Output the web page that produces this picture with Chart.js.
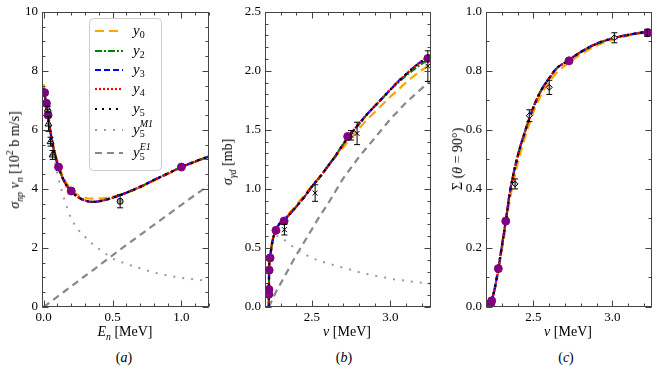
<!DOCTYPE html>
<html lang="en">
<head>
<meta charset="UTF-8">
<title>np capture and deuteron photodisintegration</title>
<script src="https://cdn.jsdelivr.net/npm/chart.js"></script>
<style>
    body {
        margin: 0;
        width: 665px;
        height: 371px;
        position: relative;
        overflow: hidden;
        background: #fff;
        font-family: 'Liberation Serif', 'Times New Roman', serif;
        color: #000;
    }
    canvas { position: absolute; top: 0; }
    .lbl, .ylbl, .cap {
        position: absolute;
        white-space: nowrap;
        font-size: 14px;
        line-height: 1;
    }
    .lbl, .cap { transform: translate(-50%, -50%); }
    .ylbl { transform: translate(-50%, -50%) rotate(-90deg); }
    sub, sup { font-size: 70%; line-height: 0; }
</style>
</head>
<body>
<canvas id="chartA" width="215" height="330" style="left:0px"></canvas>
<canvas id="chartB" width="206" height="330" style="left:230px"></canvas>
<canvas id="chartC" width="207" height="330" style="left:450px"></canvas>

<div class="ylbl" style="left:15px; top:160px"><i>σ<sub>np</sub> v<sub>n</sub></i> [10<sup>2</sup> b m/s]</div>
<div class="ylbl" style="left:228px; top:162px"><i>σ<sub>γd</sub></i> [mb]</div>
<div class="ylbl" style="left:458px; top:159px">Σ (<i>θ</i> = 90°)</div>

<div class="lbl" style="left:125px; top:332px"><i>E<sub>n</sub></i> [MeV]</div>
<div class="lbl" style="left:347px; top:332px"><i>ν</i> [MeV]</div>
<div class="lbl" style="left:568px; top:332px"><i>ν</i> [MeV]</div>

<div class="cap" style="left:124px; top:358px">(<i>a</i>)</div>
<div class="cap" style="left:344px; top:358px">(<i>b</i>)</div>
<div class="cap" style="left:566px; top:358px">(<i>c</i>)</div>

<script>
// ---- panel (a): sigma_np * v_n vs E_n ----
const enGrid = [0, 0.01, 0.02, 0.03, 0.05, 0.07, 0.1, 0.15, 0.2, 0.25, 0.3, 0.35, 0.4, 0.5, 0.6, 0.7, 0.8, 0.9, 1.0, 1.1, 1.2];
const aY0   = [7.55, 7.25, 6.95, 6.6, 6.0, 5.5, 4.95, 4.33, 3.98, 3.79, 3.7, 3.67, 3.67, 3.74, 3.87, 4.05, 4.28, 4.5, 4.72, 4.91, 5.08];
const aY2   = [7.42, 7.11, 6.81, 6.5, 5.9, 5.4, 4.85, 4.25, 3.92, 3.72, 3.61, 3.56, 3.58, 3.7, 3.87, 4.07, 4.3, 4.52, 4.74, 4.93, 5.1];
const aY345 = [7.4, 7.1, 6.8, 6.5, 5.9, 5.4, 4.85, 4.25, 3.92, 3.72, 3.61, 3.56, 3.58, 3.7, 3.87, 4.07, 4.3, 4.52, 4.74, 4.93, 5.1];
const aM1   = [7.3, 7.0, 6.7, 6.4, 5.75, 5.2, 4.5, 3.65, 3.0, 2.62, 2.38, 2.15, 1.97, 1.65, 1.46, 1.31, 1.17, 1.07, 0.99, 0.93, 0.89];
const aE1   = [0, 0.035, 0.07, 0.105, 0.175, 0.245, 0.35, 0.525, 0.7, 0.875, 1.05, 1.22, 1.4, 1.75, 2.1, 2.44, 2.78, 3.12, 3.46, 3.8, 4.13];
const aCalcX = [0.007, 0.02, 0.032, 0.108, 0.2, 1.0];
const aCalcY = [7.26, 6.9, 6.5, 4.74, 3.93, 4.74];
const aExpX = [0.03, 0.035, 0.05, 0.065];
const aExpY = [6.7, 6.2, 5.6, 5.15];
const aExpXErr = [0.02, 0.01, 0.015, 0.02];
const aExpYErr = [0.1, 0.25, 0.15, 0.15];
const aExp2X = [0.555];
const aExp2Y = [3.58];
const aExp2Err = [0.22];
const aXTicks = [0, 0.5, 1.0];
const aYTicks = [0, 2, 4, 6, 8, 10];

// ---- panel (b): sigma_gamma_d vs nu ----
const bGrid = [2.2245, 2.226, 2.232, 2.245, 2.26, 2.28, 2.3, 2.35, 2.4, 2.45, 2.5, 2.55, 2.6, 2.65, 2.7, 2.75, 2.8, 2.85, 2.9, 2.95, 3.0, 3.05, 3.1, 3.15, 3.2, 3.26];
const bY0   = [0, 0.3, 0.42, 0.54, 0.62, 0.68, 0.72, 0.79, 0.865, 0.945, 1.03, 1.105, 1.185, 1.27, 1.355, 1.43, 1.51, 1.585, 1.65, 1.715, 1.78, 1.84, 1.9, 1.955, 2.005, 2.065];
const bY2   = [0, 0.3, 0.42, 0.54, 0.62, 0.68, 0.715, 0.775, 0.85, 0.93, 1.02, 1.1, 1.19, 1.28, 1.38, 1.47, 1.55, 1.63, 1.7, 1.77, 1.84, 1.9, 1.96, 2.01, 2.06, 2.11];
const bY345 = [0, 0.3, 0.42, 0.54, 0.62, 0.68, 0.715, 0.775, 0.85, 0.93, 1.02, 1.1, 1.19, 1.28, 1.38, 1.47, 1.55, 1.63, 1.7, 1.77, 1.84, 1.91, 1.97, 2.03, 2.08, 2.13];
const bM1   = [0, 0.3, 0.41, 0.52, 0.58, 0.6, 0.59, 0.54, 0.49, 0.45, 0.415, 0.39, 0.37, 0.35, 0.332, 0.315, 0.295, 0.28, 0.265, 0.255, 0.24, 0.23, 0.222, 0.213, 0.205, 0.197];
const bE1   = [0, 0.005, 0.02, 0.06, 0.1, 0.155, 0.2, 0.32, 0.44, 0.55, 0.66, 0.77, 0.87, 0.98, 1.09, 1.18, 1.27, 1.35, 1.43, 1.51, 1.59, 1.66, 1.73, 1.79, 1.85, 1.915];
const bCalcX = [2.2247, 2.2249, 2.2262, 2.2325, 2.27, 2.322, 2.728, 3.24];
const bCalcY = [0.107, 0.149, 0.312, 0.416, 0.649, 0.728, 1.444, 2.105];
const bExpX = [2.324, 2.52, 2.749, 2.788, 3.24];
const bExpY = [0.655, 0.965, 1.454, 1.47, 2.04];
const bExpErr = [0.045, 0.07, 0.04, 0.095, 0.13];
const bXTicks = [2.5, 3.0];
const bYTicks = [0, 0.5, 1.0, 1.5, 2.0, 2.5];

// ---- panel (c): photon asymmetry at 90 deg ----
const cGrid = [2.2245, 2.23, 2.25, 2.278, 2.3, 2.325, 2.35, 2.4, 2.45, 2.5, 2.55, 2.6, 2.65, 2.7, 2.8, 2.9, 3.0, 3.1, 3.2, 3.25];
const cY0   = [0, 0.01, 0.045, 0.12, 0.19, 0.27, 0.36, 0.485, 0.58, 0.66, 0.72, 0.763, 0.795, 0.818, 0.856, 0.886, 0.905, 0.919, 0.929, 0.933];
const cY2   = [0, 0.012, 0.05, 0.13, 0.205, 0.291, 0.385, 0.51, 0.6, 0.677, 0.735, 0.775, 0.81, 0.828, 0.864, 0.892, 0.91, 0.922, 0.931, 0.935];
const cY345 = [0, 0.012, 0.05, 0.13, 0.205, 0.291, 0.385, 0.51, 0.6, 0.677, 0.735, 0.775, 0.81, 0.828, 0.864, 0.892, 0.91, 0.922, 0.931, 0.935];
const cCalcX = [2.23, 2.236, 2.278, 2.325, 2.725, 3.223];
const cCalcY = [0.012, 0.021, 0.13, 0.291, 0.834, 0.929];
const cExpX = [2.384, 2.474, 2.6, 3.012, 3.22];
const cExpY = [0.417, 0.648, 0.744, 0.912, 0.929];
const cExpErr = [0.017, 0.02, 0.024, 0.017, 0.012];
const cXTicks = [2.5, 3.0];
const cYTicks = [0, 0.2, 0.4, 0.6, 0.8, 1.0];

const SERIF = "'Liberation Serif', 'Times New Roman', serif";

const pts = (xs, ys) => xs.map((x, i) => ({ x: x, y: ys[i] }));

const styles = {
    y0: { borderColor: '#ffa500', borderDash: [9, 5], borderWidth: 2.2, order: 5, legend: { sub: '0' } },
    y2: { borderColor: '#008000', borderDash: [7, 2, 2, 2], borderWidth: 2.2, order: 4, legend: { sub: '2' } },
    y3: { borderColor: '#0000ff', borderDash: [6, 3], borderWidth: 2.2, order: 3, legend: { sub: '3' } },
    y4: { borderColor: '#ff0000', borderDash: [2, 2], borderWidth: 2.2, order: 2, legend: { sub: '4' } },
    y5: { borderColor: '#000000', borderDash: [2, 5], borderWidth: 2.2, order: 1, legend: { sub: '5' } },
    m1: { borderColor: '#999999', borderDash: [2, 7], borderWidth: 2, order: 6, legend: { sub: '5', sup: 'M1' } },
    e1: { borderColor: '#888888', borderDash: [7, 5], borderWidth: 2.2, order: 6, legend: { sub: '5', sup: 'E1' } }
};

function curve(xs, ys, st) {
    return Object.assign({
        data: pts(xs, ys),
        pointRadius: 0,
        fill: false,
        cubicInterpolationMode: 'monotone'
    }, st);
}

function calcDots(xs, ys) {
    return {
        data: pts(xs, ys), showLine: false, order: 0,
        pointStyle: 'circle', pointRadius: 4,
        backgroundColor: '#800080', borderColor: '#800080', borderWidth: 1
    };
}

function expDots(xs, ys, errY, errX, style, bg, r) {
    return {
        data: pts(xs, ys), showLine: false, order: 0,
        errY: errY, errX: errX,
        pointStyle: style, pointRadius: r,
        backgroundColor: bg, borderColor: '#000', borderWidth: 1
    };
}

function axis(min, max, ticks, digits, size, isX) {
    return {
        type: 'linear', min: min, max: max,
        grid: { display: false, drawTicks: false },
        border: { display: false },
        ticks: {
            color: '#000', font: { family: SERIF, size: 13 },
            padding: isX ? 3 : 4, autoSkip: false, maxRotation: 0,
            callback: v => Number(v).toFixed(digits)
        },
        afterBuildTicks: s => { s.ticks = ticks.map(v => ({ value: v })); },
        afterFit: s => { if (isX) s.height = size; else s.width = size; }
    };
}

// frame and inward ticks on all four sides
const frameTicks = {
    id: 'frameTicks',
    afterDraw(chart, args, o) {
        const { ctx, chartArea: a, scales: { x, y } } = chart;
        ctx.save();
        ctx.strokeStyle = '#444';
        ctx.lineWidth = 1;
        const L = Math.round(a.left) + 0.5, R = Math.round(a.right) - 0.5;
        const T = Math.round(a.top) + 0.5, B = Math.round(a.bottom) - 0.5;
        ctx.strokeRect(L, T, R - L, B - T);
        const line = (x1, y1, x2, y2) => { ctx.beginPath(); ctx.moveTo(x1, y1); ctx.lineTo(x2, y2); ctx.stroke(); };
        const marks = (scale, step, len, horiz) => {
            const k0 = Math.ceil(scale.min / step - 1e-6), k1 = Math.floor(scale.max / step + 1e-6);
            for (let k = k0; k <= k1; k++) {
                const p = Math.round(scale.getPixelForValue(k * step)) + 0.5;
                if (horiz) { line(p, B, p, B - len); line(p, T, p, T + len); }
                else { line(L, p, L + len, p); line(R, p, R - len, p); }
            }
        };
        marks(x, o.xMinor, 3, true);
        marks(x, o.xMajor, 6, true);
        marks(y, o.yMinor, 3, false);
        marks(y, o.yMajor, 6, false);
        ctx.restore();
    }
};

// vertical / horizontal error bars
const errorBars = {
    id: 'errorBars',
    afterDatasetsDraw(chart) {
        const { ctx, scales: { x, y } } = chart;
        ctx.save();
        ctx.strokeStyle = '#000';
        ctx.lineWidth = 1;
        chart.data.datasets.forEach(ds => {
            if (!ds.errY) return;
            ds.data.forEach((p, i) => {
                const px = x.getPixelForValue(p.x), py = y.getPixelForValue(p.y);
                const y1 = y.getPixelForValue(p.y + ds.errY[i]), y2 = y.getPixelForValue(p.y - ds.errY[i]);
                ctx.beginPath();
                ctx.moveTo(px, y1); ctx.lineTo(px, y2);
                ctx.moveTo(px - 3, y1); ctx.lineTo(px + 3, y1);
                ctx.moveTo(px - 3, y2); ctx.lineTo(px + 3, y2);
                if (ds.errX) {
                    const x1 = x.getPixelForValue(p.x - ds.errX[i]), x2 = x.getPixelForValue(p.x + ds.errX[i]);
                    ctx.moveTo(x1, py); ctx.lineTo(x2, py);
                }
                ctx.stroke();
            });
        });
        ctx.restore();
    }
};

// legend with sub/superscripts
const texLegend = {
    id: 'texLegend',
    afterDraw(chart, args, o) {
        if (!o.box) return;
        const ctx = chart.ctx;
        const [bx, by, bw, bh] = o.box;
        ctx.save();
        ctx.fillStyle = 'rgba(255,255,255,0.9)';
        ctx.strokeStyle = '#cccccc';
        ctx.lineWidth = 1;
        ctx.beginPath();
        ctx.roundRect(bx + 0.5, by + 0.5, bw, bh, 4);
        ctx.fill();
        ctx.stroke();
        chart.data.datasets.filter(d => d.legend).forEach((d, i) => {
            const yy = o.rows[i];
            ctx.setLineDash(d.borderDash || []);
            ctx.strokeStyle = d.borderColor;
            ctx.lineWidth = d.borderWidth;
            ctx.beginPath(); ctx.moveTo(o.x0, yy); ctx.lineTo(o.x1, yy); ctx.stroke();
            ctx.setLineDash([]);
            ctx.fillStyle = '#000';
            ctx.textBaseline = 'alphabetic';
            ctx.font = 'italic 15px ' + SERIF;
            ctx.fillText('y', o.tx, yy + 4);
            const w = ctx.measureText('y').width;
            ctx.font = '10px ' + SERIF;
            ctx.fillText(d.legend.sub, o.tx + w, yy + 7);
            if (d.legend.sup) {
                ctx.font = 'italic 10px ' + SERIF;
                ctx.fillText(d.legend.sup, o.tx + w, yy - 3);
            }
        });
        ctx.restore();
    }
};

function makeChart(id, datasets, xAx, yAx, padRight, tickOpts, legendOpts) {
    return new Chart(document.getElementById(id), {
        type: 'line',
        data: { datasets: datasets },
        options: {
            responsive: false,
            animation: false,
            layout: { padding: { top: 11, right: padRight, left: 0, bottom: 0 } },
            plugins: {
                legend: { display: false },
                tooltip: { enabled: false },
                frameTicks: tickOpts,
                texLegend: legendOpts || {}
            },
            scales: { x: xAx, y: yAx }
        },
        plugins: [errorBars, frameTicks, texLegend]
    });
}

makeChart('chartA', [
    curve(enGrid, aY0, styles.y0),
    curve(enGrid, aY2, styles.y2),
    curve(enGrid, aY345, styles.y3),
    curve(enGrid, aY345, styles.y4),
    curve(enGrid, aY345, styles.y5),
    curve(enGrid, aM1, styles.m1),
    curve(enGrid, aE1, styles.e1),
    calcDots(aCalcX, aCalcY),
    expDots(aExpX, aExpY, aExpYErr, aExpXErr, 'triangle', 'rgba(255,255,255,0.6)', 4),
    expDots(aExp2X, aExp2Y, aExp2Err, null, 'circle', '#aaaaaa', 3)
], axis(-0.012, 1.2, aXTicks, 1, 23, true), axis(0, 10, aYTicks, 0, 42, false), 6,
   { xMajor: 0.5, xMinor: 0.1, yMajor: 2, yMinor: 0.5 },
   { box: [89, 18, 72, 152], rows: [31, 51, 70, 89, 109, 130, 153], x0: 95, x1: 123, tx: 133 });

makeChart('chartB', [
    curve(bGrid, bY0, styles.y0),
    curve(bGrid, bY2, styles.y2),
    curve(bGrid, bY345, styles.y3),
    curve(bGrid, bY345, styles.y4),
    curve(bGrid, bY345, styles.y5),
    curve(bGrid, bM1, styles.m1),
    curve(bGrid, bE1, styles.e1),
    calcDots(bCalcX, bCalcY),
    expDots(bExpX, bExpY, bExpErr, null, 'crossRot', '#000', 3.5)
], axis(2.2, 3.26, bXTicks, 1, 23, true), axis(0, 2.5, bYTicks, 1, 35, false), 5,
   { xMajor: 0.5, xMinor: 0.1, yMajor: 0.5, yMinor: 0.1 });

makeChart('chartC', [
    curve(cGrid, cY0, styles.y0),
    curve(cGrid, cY2, styles.y2),
    curve(cGrid, cY345, styles.y3),
    curve(cGrid, cY345, styles.y4),
    curve(cGrid, cY345, styles.y5),
    calcDots(cCalcX, cCalcY),
    expDots(cExpX, cExpY, cExpErr, null, 'rectRot', '#dddddd', 3)
], axis(2.2, 3.25, cXTicks, 1, 23, true), axis(0, 1.0, cYTicks, 1, 36, false), 5,
   { xMajor: 0.5, xMinor: 0.1, yMajor: 0.2, yMinor: 0.1 });
</script>
</body>
</html>
